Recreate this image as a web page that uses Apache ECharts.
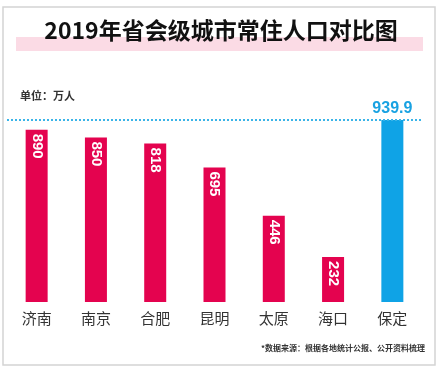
<!DOCTYPE html>
<html>
<head>
<meta charset="utf-8">
<script src="https://cdn.jsdelivr.net/npm/echarts@6/dist/echarts.min.js"></script>
<style>
  html, body { margin: 0; padding: 0; background: #fff; }
  #chart { width: 442px; height: 377px; }
</style>
</head>
<body>
<div id="chart"></div>
<script>
// 城市与常住人口（万人）
const cities = ['济南', '南京', '合肥', '昆明', '太原', '海口', '保定']
const population = [890, 850, 818, 695, 446, 232, 939.9]
const highlightCity = '保定'

const chart = echarts.init(document.getElementById('chart'))
const FONT = '"Noto Sans CJK SC", "Noto Sans", sans-serif'

const barData = population.map((v, i) => {
  if (cities[i] === highlightCity) {
    return {
      value: v,
      itemStyle: { color: '#0fa3e6' },
      label: {
        show: true,
        position: 'top',
        rotate: 0,
        align: 'center',
        verticalAlign: 'bottom',
        color: '#19a2e2',
        fontSize: 16,
        fontWeight: 'bold',
        distance: 3
      }
    }
  }
  return v
})

const option = {
  backgroundColor: '#fff',
  animation: false,
  graphic: [
    // 外框
    {
      type: 'rect',
      shape: { x: 3, y: 7, width: 432, height: 358 },
      style: { fill: '#fff', stroke: '#d4d4d4', lineWidth: 1.5 },
      z: -10
    },
    // 标题下的粉色高亮
    {
      type: 'rect',
      shape: { x: 16, y: 37, width: 407, height: 14 },
      style: { fill: '#fbdbe5' },
      z: -5
    },
    {
      type: 'text',
      left: 'center',
      top: 19,
      style: {
        text: '2019年省会级城市常住人口对比图',
        font: 'bold 23px ' + FONT,
        fill: '#111'
      }
    },
    {
      type: 'text',
      left: 20,
      top: 90,
      style: {
        text: '单位：万人',
        font: 'bold 11px ' + FONT,
        fill: '#333'
      }
    },
    {
      type: 'text',
      right: 17,
      top: 344,
      style: {
        text: '*数据来源：根据各地统计公报、公开资料梳理',
        font: 'bold 8px ' + FONT,
        fill: '#333'
      }
    }
  ],
  grid: { left: 7, right: 20, top: 120, bottom: 75 },
  xAxis: {
    type: 'category',
    data: cities,
    axisLine: { show: false },
    axisTick: { show: false },
    axisLabel: {
      color: '#333',
      fontSize: 15,
      fontFamily: FONT,
      margin: 9
    }
  },
  yAxis: {
    type: 'value',
    min: 0,
    max: 939.9,
    show: false,
    splitLine: { show: false }
  },
  series: [
    {
      type: 'bar',
      data: barData,
      barWidth: 22,
      itemStyle: { color: '#e4034f' },
      label: {
        show: true,
        position: 'insideTop',
        rotate: -90,
        align: 'left',
        verticalAlign: 'middle',
        distance: 4,
        color: '#fff',
        fontSize: 15,
        fontWeight: 'bold',
        fontFamily: 'Liberation Sans, Arial, sans-serif'
      },
      markLine: {
        silent: true,
        symbol: 'none',
        label: { show: false },
        lineStyle: { color: '#3ab4e8', type: [2, 2], width: 2 },
        data: [{ yAxis: 939.9 }]
      }
    }
  ]
}

chart.setOption(option)
</script>
</body>
</html>
